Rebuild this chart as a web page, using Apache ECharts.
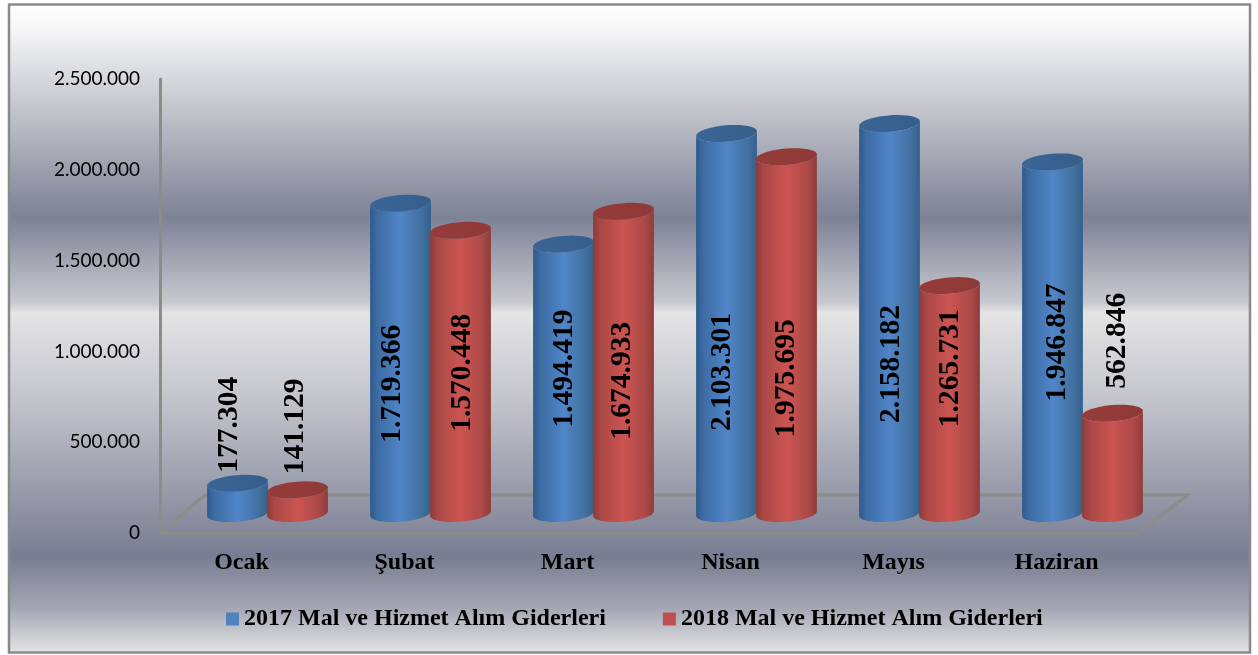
<!DOCTYPE html>
<html>
<head>
<meta charset="utf-8">
<style>html,body{margin:0;padding:0;background:#fff}#c{width:1258px;height:655px}</style>
<script src="https://cdn.jsdelivr.net/npm/echarts@6/dist/echarts.min.js"></script>
</head>
<body>
<div id="c"></div>
<script>
var categories = ['Ocak', 'Şubat', 'Mart', 'Nisan', 'Mayıs', 'Haziran'];
var name2017 = '2017 Mal ve Hizmet Alım Giderleri';
var name2018 = '2018 Mal ve Hizmet Alım Giderleri';
var values2017 = [177304, 1719366, 1494419, 2103301, 2158182, 1946847];
var values2018 = [141129, 1570448, 1674933, 1975695, 1265731, 562846];
var yTicks = [0, 500000, 1000000, 1500000, 2000000, 2500000];

// hand-placed value label offsets, relative to the top of each cylinder
var labelShift2017 = [[-8, -57], [-8, 182], [1, 126], [-4, 240], [2, 242], [5, 182]];
var labelShift2018 = [[-2, -62], [2, 144], [-1, 171], [0, 223], [1, 84], [5, -71]];

var R = 30.5, RY = 8.2, TILT = -4.7 * Math.PI / 180;
var DEPTH_X = 25.5, BASE_LIFT = 19.5, TOP_LIFT = 17.5, LABEL_LIFT = 19;

function fmt(v) {
  return String(v).replace(/\B(?=(\d{3})+(?!\d))/g, '.');
}
function ellipsePoint(cx, cy, t) {
  var ex = R * Math.cos(t), ey = RY * Math.sin(t);
  return [cx + ex * Math.cos(TILT) - ey * Math.sin(TILT), cy + ex * Math.sin(TILT) + ey * Math.cos(TILT)];
}
function sweep(cx, cy, from, to) {
  var pts = [], n = 40;
  for (var i = 0; i <= n; i++) pts.push(ellipsePoint(cx, cy, from + (to - from) * i / n));
  return pts;
}
function hGrad(stops) {
  return { type: 'linear', x: 0, y: 0, x2: 1, y2: 0, colorStops: stops };
}
function cylinderSeries(name, values, sideOffset, shift, body, top, legendColor) {
  return {
    type: 'custom',
    name: name,
    z: 3,
    data: values.map(function (v, i) { return [i, v]; }),
    itemStyle: { color: legendColor },
    clip: false,
    renderItem: function (params, api) {
      var i = api.value(0), v = api.value(1);
      var foot = api.coord([i, 0]);
      var head = api.coord([i, v]);
      var cx = foot[0] + DEPTH_X + sideOffset;
      var baseY = foot[1] - BASE_LIFT, topY = head[1] - TOP_LIFT;
      var upper = sweep(cx, topY, Math.PI, 0);
      var lower = sweep(cx, baseY, 0, Math.PI);
      var bodyPts = upper.concat(lower);
      var lid = sweep(cx, topY, 0, Math.PI * 2);
      var s = shift[params.dataIndex];
      return {
        type: 'group',
        children: [
          { type: 'polygon', shape: { points: bodyPts }, style: { fill: hGrad(body) } },
          { type: 'polygon', shape: { points: lid }, style: { fill: hGrad(top) } },
          {
            type: 'text', z2: 10, x: cx + s[0], y: head[1] - LABEL_LIFT + s[1], rotation: Math.PI / 2,
            style: {
              text: fmt(v), fill: '#000', align: 'center', verticalAlign: 'middle',
              font: 'bold 29.5px "Liberation Serif", "Times New Roman", serif'
            }
          }
        ]
      };
    }
  };
}

var blueBody = [{ offset: 0, color: '#2f5a8c' }, { offset: 0.12, color: '#3d6ca3' }, { offset: 0.5, color: '#5085c8' }, { offset: 0.85, color: '#42719f' }, { offset: 1, color: '#345f8c' }];
var blueTop = [{ offset: 0, color: '#3a6596' }, { offset: 1, color: '#365e8b' }];
var redBody = [{ offset: 0, color: '#8d3b39' }, { offset: 0.12, color: '#a94845' }, { offset: 0.5, color: '#cc5451' }, { offset: 0.85, color: '#ab4a47' }, { offset: 1, color: '#8f3c3a' }];
var redTop = [{ offset: 0, color: '#953c3a' }, { offset: 1, color: '#8f3a38' }];

var pageGrad = {
  type: 'linear', x: 0, y: 0, x2: 0, y2: 1,
  colorStops: [
    { offset: 0, color: '#ffffff' },
    { offset: 0.04, color: '#f6f6f7' },
    { offset: 0.18, color: '#bcbec6' },
    { offset: 0.30, color: '#898d9f' },
    { offset: 0.33, color: '#7d8296' },
    { offset: 0.46, color: '#c8c9cf' },
    { offset: 0.476, color: '#e4e4e5' },
    { offset: 0.60, color: '#c6c7ce' },
    { offset: 0.85, color: '#787d91' },
    { offset: 0.93, color: '#a3a6b3' },
    { offset: 1, color: '#e6e6e8' }
  ]
};

var chart = echarts.init(document.getElementById('c'), null, { renderer: 'canvas' });
chart.setOption({
  animation: false,
  backgroundColor: '#ffffff',
  grid: { left: 160, right: 120, top: 79, bottom: 122, containLabel: false },
  graphic: [
    { type: 'rect', z: -10, shape: { x: 9, y: 4.5, width: 1241, height: 648 }, style: { fill: pageGrad, stroke: '#8a8a8a', lineWidth: 2.5 } },
    { type: 'polyline', z: 1, shape: { points: [[160, 533], [205, 495], [1188, 495], [1138, 533]] }, style: { fill: null, stroke: '#8c8c88', lineWidth: 3 } }
  ],
  legend: {
    data: [name2017, name2018],
    left: 221,
    top: 602,
    itemWidth: 13,
    itemHeight: 13,
    itemGap: 57,
    icon: 'rect',
    selectedMode: false,
    textStyle: { color: '#000', fontFamily: '"Liberation Serif", "Times New Roman", serif', fontWeight: 'bold', fontSize: 24, padding: [0, 0, 0, 0] }
  },
  xAxis: {
    type: 'category',
    data: categories,
    axisLine: { show: true, lineStyle: { color: '#8c8c88', width: 3 } },
    axisTick: { show: false },
    axisLabel: { color: '#000', fontFamily: '"Liberation Serif", "Times New Roman", serif', fontWeight: 'bold', fontSize: 24, margin: 18 }
  },
  yAxis: {
    type: 'value',
    min: yTicks[0],
    max: yTicks[yTicks.length - 1],
    interval: yTicks[1],
    splitLine: { show: false },
    axisTick: { show: false },
    axisLine: { show: true, lineStyle: { color: '#8c8c88', width: 3 } },
    axisLabel: { color: '#000', fontFamily: 'Lato, "Open Sans", sans-serif', fontSize: 19, margin: 20, padding: [2, 0, 0, 0], formatter: fmt }
  },
  series: [
    cylinderSeries(name2017, values2017, -29.5, labelShift2017, blueBody, blueTop, '#4f81bd'),
    cylinderSeries(name2018, values2018, 30.5, labelShift2018, redBody, redTop, '#c0504d')
  ]
});
</script>
</body>
</html>
